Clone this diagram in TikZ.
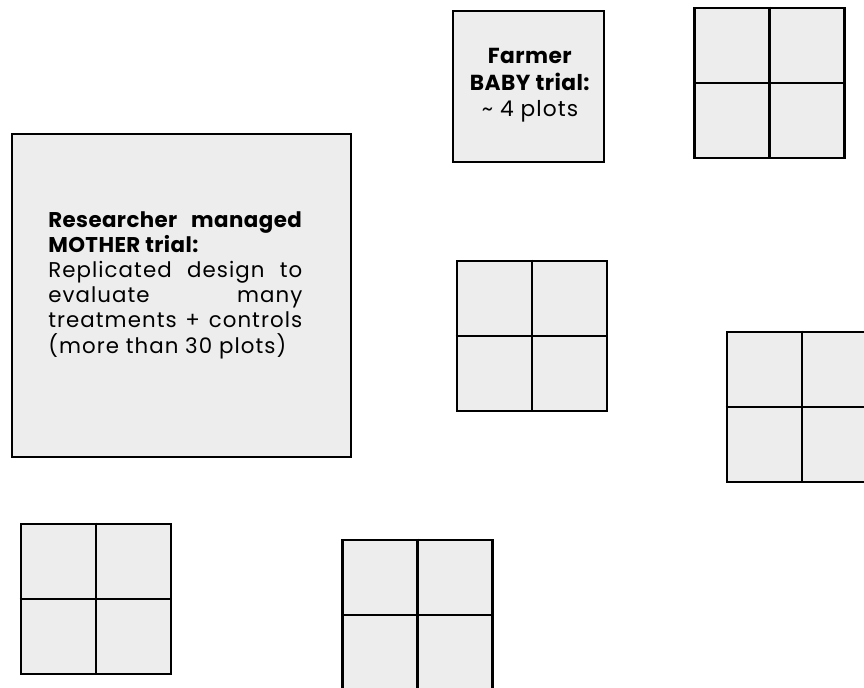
\documentclass[tikz,border=0pt]{standalone}
\usepackage{fontspec}
\setmainfont{Poppins}[LetterSpace=5, BoldFeatures={LetterSpace=2}]
\definecolor{plotfill}{HTML}{EDEDED}
\tikzset{
  px/.style={x=0.75pt,y=-0.75pt},
  field/.style={draw=black, fill=plotfill, line width=2.2pt, rectangle, inner sep=0pt},
  plotgrid/.style={field, minimum width=112.5pt, minimum height=112.5pt},
  gridline/.style={line width=2.2pt, draw=black},
  mothertextstyle/.style={inner sep=0pt, align=left, font=\fontsize{16}{18.9}\selectfont},
  babytextstyle/.style={inner sep=0pt, align=center, font=\fontsize{16.3}{20}\selectfont}
}
\newcommand{\gridlines}[1]{%
  \draw[gridline] (#1.north) -- (#1.south);
  \draw[gridline] (#1.west) -- (#1.east);}
\newcommand{\fullline}[1]{\makebox[190.5pt][s]{#1}}
\begin{document}
\begin{tikzpicture}[px]
\useasboundingbox (0,0) rectangle (864,688);
% mother trial
\node[field, minimum width=254.25pt, minimum height=242.25pt] (mother) at (181.5,295.5) {};
\node[mothertextstyle, anchor=north west] (mothertext) at (48,211)
  {\fullline{\textbf{Researcher managed}}\\
   \textbf{MOTHER trial:}\\
   \fullline{Replicated design to}\\
   \fullline{evaluate many}\\
   \fullline{treatments + controls}\\
   (more than 30 plots)};
% baby trial
\node[field, minimum width=113.25pt, minimum height=113.25pt] (baby) at (528.5,86.5) {};
\node[babytextstyle, anchor=north] (babytext) at (530,48)
  {\textbf{Farmer}\\\textbf{BABY trial:}\\\textasciitilde{} 4 plots};
% farmer plots
\node[plotgrid] (g1) at (769.5,83) {};
\node[plotgrid] (g2) at (532,336) {};
\node[plotgrid] (g3) at (802,407) {};
\node[plotgrid] (g4) at (96,599) {};
\node[plotgrid] (g5) at (417.5,615) {};
\gridlines{g1}
\gridlines{g2}
\gridlines{g3}
\gridlines{g4}
\gridlines{g5}
\end{tikzpicture}
\end{document}
